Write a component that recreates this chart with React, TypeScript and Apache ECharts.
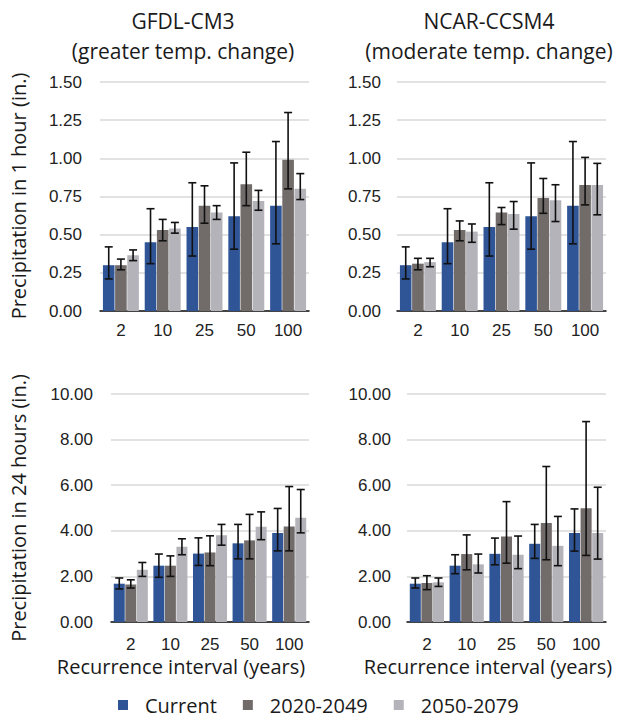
import React, { useEffect, useRef } from "react";
import * as echarts from "echarts";

const categories = ["2", "10", "25", "50", "100"];
const seriesNames = ["Current", "2020-2049", "2050-2079"];
const colors = ["#2F5597", "#716B6A", "#B4B3B9"];

// GFDL-CM3, 1 hour
const gfdl1hCurrent = [0.30, 0.45, 0.55, 0.62, 0.69];
const gfdl1hCurrentLow = [0.21, 0.31, 0.36, 0.405, 0.44];
const gfdl1hCurrentHigh = [0.42, 0.67, 0.84, 0.97, 1.11];
const gfdl1h2020 = [0.30, 0.53, 0.69, 0.83, 0.99];
const gfdl1h2020Low = [0.27, 0.46, 0.575, 0.69, 0.80];
const gfdl1h2020High = [0.34, 0.60, 0.82, 1.04, 1.30];
const gfdl1h2050 = [0.365, 0.54, 0.645, 0.72, 0.80];
const gfdl1h2050Low = [0.33, 0.51, 0.60, 0.66, 0.73];
const gfdl1h2050High = [0.40, 0.58, 0.69, 0.79, 0.90];

// NCAR-CCSM4, 1 hour
const ncar1hCurrent = [0.30, 0.45, 0.55, 0.62, 0.69];
const ncar1hCurrentLow = [0.21, 0.31, 0.36, 0.405, 0.44];
const ncar1hCurrentHigh = [0.42, 0.67, 0.84, 0.97, 1.11];
const ncar1h2020 = [0.31, 0.53, 0.645, 0.74, 0.825];
const ncar1h2020Low = [0.27, 0.46, 0.566, 0.64, 0.695];
const ncar1h2020High = [0.345, 0.59, 0.678, 0.868, 1.006];
const ncar1h2050 = [0.32, 0.52, 0.636, 0.726, 0.825];
const ncar1h2050Low = [0.29, 0.45, 0.536, 0.586, 0.63];
const ncar1h2050High = [0.345, 0.57, 0.717, 0.827, 0.967];

// GFDL-CM3, 24 hours
const gfdl24hCurrent = [1.68, 2.47, 3.0, 3.45, 3.90];
const gfdl24hCurrentLow = [1.45, 1.96, 2.48, 2.77, 3.12];
const gfdl24hCurrentHigh = [1.93, 2.98, 3.69, 4.28, 4.98];
const gfdl24h2020 = [1.64, 2.47, 3.05, 3.58, 4.19];
const gfdl24h2020Low = [1.49, 2.0, 2.47, 2.77, 3.12];
const gfdl24h2020High = [1.85, 2.9, 3.78, 4.72, 5.94];
const gfdl24h2050 = [2.29, 3.30, 3.80, 4.18, 4.57];
const gfdl24h2050Low = [2.0, 2.95, 3.37, 3.61, 3.91];
const gfdl24h2050High = [2.61, 3.65, 4.28, 4.83, 5.81];

// NCAR-CCSM4, 24 hours
const ncar24hCurrent = [1.68, 2.47, 2.99, 3.43, 3.90];
const ncar24hCurrentLow = [1.49, 2.12, 2.51, 2.79, 3.11];
const ncar24hCurrentHigh = [1.93, 2.95, 3.68, 4.28, 4.96];
const ncar24h2020 = [1.71, 2.98, 3.75, 4.34, 4.99];
const ncar24h2020Low = [1.42, 2.29, 2.58, 2.73, 2.92];
const ncar24h2020High = [2.03, 3.82, 5.28, 6.82, 8.79];
const ncar24h2050 = [1.74, 2.53, 2.95, 3.34, 3.90];
const ncar24h2050Low = [1.56, 2.15, 2.34, 2.47, 2.76];
const ncar24h2050High = [1.93, 2.98, 3.77, 4.63, 5.91];

const panels = [
  {
    values: [gfdl1hCurrent, gfdl1h2020, gfdl1h2050],
    lows: [gfdl1hCurrentLow, gfdl1h2020Low, gfdl1h2050Low],
    highs: [gfdl1hCurrentHigh, gfdl1h2020High, gfdl1h2050High],
  },
  {
    values: [ncar1hCurrent, ncar1h2020, ncar1h2050],
    lows: [ncar1hCurrentLow, ncar1h2020Low, ncar1h2050Low],
    highs: [ncar1hCurrentHigh, ncar1h2020High, ncar1h2050High],
  },
  {
    values: [gfdl24hCurrent, gfdl24h2020, gfdl24h2050],
    lows: [gfdl24hCurrentLow, gfdl24h2020Low, gfdl24h2050Low],
    highs: [gfdl24hCurrentHigh, gfdl24h2020High, gfdl24h2050High],
  },
  {
    values: [ncar24hCurrent, ncar24h2020, ncar24h2050],
    lows: [ncar24hCurrentLow, ncar24h2020Low, ncar24h2050Low],
    highs: [ncar24hCurrentHigh, ncar24h2020High, ncar24h2050High],
  },
];

const CAT_GAP = 0.14;
const BAR_GAP = 0.05;
const LABEL_FONT = "'Liberation Sans', Arial, sans-serif";
const TITLE_FONT = "'Open Sans', 'Noto Sans', sans-serif";

const grids = [
  { left: 100, top: 82, width: 209, height: 229 },
  { left: 397, top: 82, width: 209, height: 229 },
  { left: 111, top: 394, width: 198, height: 228 },
  { left: 407, top: 394, width: 199, height: 228 },
];

function renderErr(params: any, api: any) {
  const cat = api.value(0);
  const lo = api.value(1);
  const hi = api.value(2);
  const idx = api.value(3);
  const band = api.size([1, 0])[0];
  const groupW = band * (1 - CAT_GAP);
  const w = groupW / (3 + 2 * BAR_GAP);
  const cx0 = api.coord([cat, 0])[0];
  const x = cx0 - groupW / 2 + w / 2 + idx * w * (1 + BAR_GAP);
  const yLo = api.coord([cat, lo])[1];
  const yHi = api.coord([cat, hi])[1];
  const cap = 4;
  const style = { stroke: "#111", lineWidth: 1.6 };
  return {
    type: "group",
    children: [
      { type: "line", shape: { x1: x, y1: yHi, x2: x, y2: yLo }, style },
      { type: "line", shape: { x1: x - cap, y1: yHi, x2: x + cap, y2: yHi }, style },
      { type: "line", shape: { x1: x - cap, y1: yLo, x2: x + cap, y2: yLo }, style },
    ],
  };
}

export default function App() {
  const ref = useRef<HTMLDivElement>(null);
  useEffect(() => {
    if (!ref.current) return;
    const chart = echarts.init(ref.current, null, { renderer: "svg" });
    const series: any[] = [];
    panels.forEach((p, pi) => {
      p.values.forEach((vals, si) => {
        series.push({
          type: "bar",
          name: seriesNames[si],
          xAxisIndex: pi,
          yAxisIndex: pi,
          data: vals,
          barCategoryGap: "14%",
          barGap: "5%",
          itemStyle: { color: colors[si] },
        });
      });
      p.values.forEach((vals, si) => {
        series.push({
          type: "custom",
          name: "err" + pi + "_" + si,
          xAxisIndex: pi,
          yAxisIndex: pi,
          renderItem: renderErr,
          encode: { x: 0, y: [1, 2] },
          data: categories.map((c, i) => [i, p.lows[si][i], p.highs[si][i], si]),
          z: 10,
        });
      });
    });

    const xAxes = grids.map((g, i) => ({
      type: "category",
      gridIndex: i,
      data: categories,
      axisLine: { show: true, lineStyle: { color: "#111", width: 1.5 } },
      axisTick: { show: false },
      axisLabel: {
        fontFamily: LABEL_FONT,
        fontSize: 17,
        color: "#222",
        margin: i < 2 ? 11 : 14,
      },
    }));
    const yAxes = grids.map((g, i) => ({
      type: "value",
      gridIndex: i,
      min: 0,
      max: i < 2 ? 1.5 : 10,
      interval: i < 2 ? 0.25 : 2,
      axisLine: { show: false },
      axisTick: { show: false },
      splitLine: { lineStyle: { color: "#d9d9d9", width: 1.5 } },
      axisLabel: {
        fontFamily: LABEL_FONT,
        fontSize: 17,
        color: "#222",
        margin: i % 2 === 0 ? 18 : 16,
        formatter: (v: number) => v.toFixed(2),
      },
    }));

    const titleStyle = {
      fontFamily: TITLE_FONT,
      fontSize: 21,
      fill: "#1a1a1a",
      textAlign: "center",
      textVerticalAlign: "middle",
    };

    chart.setOption({
      animation: false,
      backgroundColor: "#ffffff",
      grid: grids,
      xAxis: xAxes,
      yAxis: yAxes,
      legend: {
        data: seriesNames,
        left: 113,
        top: 690,
        icon: "rect",
        itemWidth: 10,
        itemHeight: 10,
        itemGap: 26,
        textStyle: {
          fontFamily: TITLE_FONT,
          fontSize: 20,
          lineHeight: 20,
          color: "#1a1a1a",
          padding: [0, 0, 0, 12],
        },
      },
      graphic: [
        { type: "text", x: 183, y: 21, style: { ...titleStyle, text: "GFDL-CM3" } },
        { type: "text", x: 183, y: 51, style: { ...titleStyle, text: "(greater temp. change)" } },
        { type: "text", x: 489, y: 21, style: { ...titleStyle, text: "NCAR-CCSM4" } },
        { type: "text", x: 489, y: 51, style: { ...titleStyle, text: "(moderate temp. change)" } },
        {
          type: "text",
          x: 18,
          y: 196,
          rotation: Math.PI / 2,
          style: { ...titleStyle, fontSize: 20, text: "Precipitation in 1 hour (in.)" },
        },
        {
          type: "text",
          x: 18,
          y: 508,
          rotation: Math.PI / 2,
          style: { ...titleStyle, fontSize: 20, text: "Precipitation in 24 hours (in.)" },
        },
        { type: "text", x: 181, y: 666, style: { ...titleStyle, fontSize: 20, text: "Recurrence interval (years)" } },
        { type: "text", x: 488, y: 666, style: { ...titleStyle, fontSize: 20, text: "Recurrence interval (years)" } },
      ],
      series,
    });
    return () => chart.dispose();
  }, []);
  return (
    <div
      ref={ref}
      style={{ position: "fixed", left: 0, top: 0, width: 627, height: 719, background: "#fff" }}
    />
  );
}
